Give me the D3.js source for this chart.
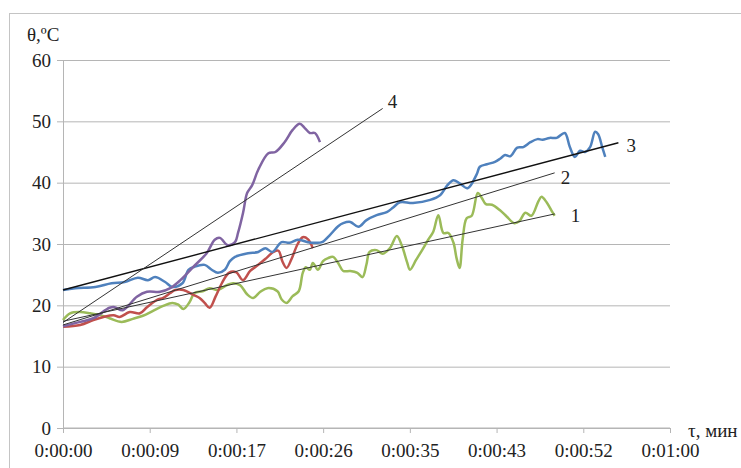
<!DOCTYPE html>
<html>
<head>
<meta charset="utf-8">
<script src="https://cdn.jsdelivr.net/npm/d3@7"></script>
<style>
  html, body { margin: 0; padding: 0; background: #fff; }
  svg { display: block; }
  svg text { font-family: "Liberation Serif", "DejaVu Serif", "Times New Roman", serif !important; fill: #222; }
</style>
</head>
<body>
<svg id="chart" width="741" height="468"></svg>
<script>
// Time axis (seconds) and temperature axis (°C)
const xTickLabels = ["0:00:00", "0:00:09", "0:00:17", "0:00:26", "0:00:35", "0:00:43", "0:00:52", "0:01:00"];
const yTickValues = [0, 10, 20, 30, 40, 50, 60];

// Curve 1 (green)
const t1 = [0, 0.7, 1.7, 2.7, 3.7, 4.6, 5.8, 6.9, 7.9, 8.9, 9.9, 10.8, 11.4, 11.9, 12.5, 13.0, 13.8, 14.5, 15.3, 16.2, 16.8, 17.5, 18.2, 18.8, 19.5, 20.2, 21.2, 21.6, 22.1, 22.7, 23.3, 23.7, 24.0, 24.4, 24.7, 25.2, 25.7, 26.2, 26.7, 27.2, 27.7, 28.4, 29.1, 29.6, 30.0, 30.3, 31.0, 31.6, 32.3, 33.0, 33.5, 34.0, 34.3, 34.9, 35.5, 36.1, 36.6, 37.1, 37.6, 38.1, 38.6, 38.9, 39.2, 39.5, 39.9, 40.4, 41.0, 41.4, 41.8, 42.4, 43.2, 43.9, 44.6, 45.1, 45.7, 46.3, 47.0, 47.3, 47.8, 48.3, 48.6];
const v1 = [17.6, 18.7, 18.9, 18.7, 18.4, 17.9, 17.3, 17.8, 18.3, 19.1, 19.9, 20.4, 20.1, 19.4, 20.5, 22.0, 22.3, 22.8, 22.5, 23.3, 23.6, 23.3, 21.8, 21.2, 22.2, 22.8, 22.3, 21.0, 20.4, 21.5, 22.3, 25.3, 26.2, 25.8, 26.9, 25.8, 27.2, 27.7, 27.9, 26.9, 25.6, 25.6, 25.3, 24.6, 26.7, 28.7, 29.0, 28.4, 29.3, 31.3, 29.7, 27.1, 25.8, 27.4, 29.0, 30.7, 32.0, 34.7, 31.8, 31.8, 30.2, 27.7, 26.1, 30.7, 34.2, 34.6, 38.3, 37.5, 36.5, 36.4, 35.5, 34.4, 33.4, 33.7, 35.1, 34.6, 37.0, 37.7, 36.8, 35.4, 34.6];

// Curve 2 (red)
const t2 = [0, 1.7, 3.0, 4.0, 5.0, 5.6, 6.6, 7.6, 8.3, 9.3, 9.9, 10.6, 11.1, 11.9, 12.9, 13.5, 14.0, 14.5, 15.1, 15.7, 16.4, 17.1, 17.8, 18.5, 19.3, 20.1, 20.8, 21.3, 21.7, 22.1, 22.6, 23.2, 23.7, 24.2, 24.7];
const v2 = [16.5, 16.8, 17.6, 18.1, 18.4, 18.1, 18.9, 18.7, 19.7, 20.9, 21.2, 22.0, 22.5, 22.5, 21.7, 21.2, 20.4, 19.6, 21.5, 23.6, 25.3, 25.4, 24.1, 25.6, 26.6, 27.7, 28.7, 28.9, 27.1, 26.1, 27.6, 30.0, 31.1, 30.8, 29.3];

// Curve 3 (blue)
const t3 = [0, 1.2, 3.2, 4.8, 6.1, 7.4, 8.4, 9.1, 10.1, 10.8, 11.8, 12.4, 13.0, 14.0, 14.7, 15.3, 16.0, 16.5, 17.0, 18.3, 19.3, 20.0, 20.7, 21.6, 22.4, 23.2, 24.2, 24.9, 25.6, 26.4, 27.2, 27.7, 28.4, 29.2, 30.0, 31.0, 32.0, 32.6, 33.3, 34.6, 36.3, 37.3, 38.0, 38.6, 39.2, 40.0, 40.9, 41.2, 41.9, 42.7, 43.2, 43.7, 44.2, 44.9, 45.5, 46.2, 46.9, 47.4, 48.1, 48.8, 49.6, 50.1, 50.6, 51.1, 51.6, 52.1, 52.6, 52.9, 53.3, 53.6];
const v3 = [22.5, 22.8, 23.0, 23.6, 23.8, 24.5, 24.1, 24.6, 23.8, 23.0, 23.6, 25.8, 26.3, 26.6, 25.8, 25.3, 25.8, 27.2, 27.9, 28.5, 28.7, 29.3, 28.7, 30.3, 30.2, 30.7, 30.3, 30.2, 30.3, 31.5, 32.9, 33.4, 33.6, 32.8, 33.9, 34.7, 35.2, 35.9, 36.8, 36.7, 37.2, 38.0, 39.6, 40.4, 39.9, 39.1, 41.4, 42.6, 43.0, 43.4, 43.9, 44.5, 44.3, 45.7, 45.8, 46.6, 47.1, 47.0, 47.3, 47.3, 48.1, 45.8, 44.2, 45.2, 45.0, 45.8, 48.3, 47.9, 45.8, 44.2];

// Curve 4 (purple)
const t4 = [0, 1.7, 3.0, 4.6, 5.1, 5.9, 7.3, 8.3, 9.6, 10.6, 11.6, 12.9, 14.2, 15.0, 15.5, 16.3, 17.0, 17.3, 17.8, 18.2, 18.7, 19.3, 20.3, 21.0, 21.9, 22.7, 23.4, 23.9, 24.4, 24.9, 25.4];
const v4 = [16.6, 17.3, 17.9, 19.6, 19.7, 19.2, 21.4, 22.2, 22.2, 22.8, 24.1, 26.3, 28.5, 30.7, 31.0, 29.8, 30.3, 31.8, 35.1, 38.3, 39.6, 42.1, 44.8, 45.0, 46.6, 48.6, 49.6, 48.9, 48.1, 48.1, 46.6];

// Linear trend lines: start/end time and temperature
const trendNames = ["1", "2", "3", "4"];
const trendT = [[0, 48.6], [0, 48.6], [0, 54.9], [0, 31.6]];
const trendV = [[17.4, 34.9], [16.8, 41.6], [22.5, 46.5], [17.2, 52.1]];

const svg = d3.select("#chart");
const margin = { left: 63, right: 71, top: 60, bottom: 40 };
const W = 741, H = 468;
const FONT = "'Liberation Serif', 'DejaVu Serif', serif";
const FS = 19;

const x = d3.scaleLinear().domain([0, 60]).range([margin.left, W - margin.right]);
const y = d3.scaleLinear().domain([0, 60]).range([H - margin.bottom, margin.top]);

// chart frame
svg.append("rect")
  .attr("x", 9.5).attr("y", 13.5)
  .attr("width", 740).attr("height", 470)
  .attr("fill", "none").attr("stroke", "#c4c4c4").attr("stroke-width", 1);

// horizontal gridlines with y axis
const yAxis = d3.axisLeft(y).tickValues(yTickValues)
  .tickSize(-(x.range()[1] - x.range()[0])).tickPadding(12).tickFormat(d3.format("d"));
const gy = svg.append("g").attr("transform", `translate(${margin.left},0)`).call(yAxis)
  .attr("font-family", FONT);
gy.select(".domain").attr("stroke", "#b5b5b5");
gy.selectAll(".tick line").attr("stroke", "#b5b5b5").attr("x1", -6);
gy.selectAll(".tick text").style("font-family", FONT).attr("font-size", FS).attr("fill", "#222");

// x axis
const xTicks = xTickLabels.map((d, i) => i * 60 / 7);
const xAxis = d3.axisBottom(x).tickValues(xTicks).tickSize(5).tickPadding(11)
  .tickFormat((d, i) => xTickLabels[i]);
const gx = svg.append("g").attr("transform", `translate(0,${y(0)})`).call(xAxis)
  .attr("font-family", FONT);
gx.select(".domain").attr("stroke", "#b5b5b5").attr("d", `M${x(0)},0H${x(60)}`);
gx.selectAll(".tick line").attr("stroke", "#b5b5b5");
gx.selectAll(".tick text").style("font-family", FONT).attr("font-size", FS).attr("fill", "#222");

// axis titles
svg.append("text").attr("x", 27).attr("y", 41).attr("font-size", FS).style("font-family", FONT).text("θ,ºC");
svg.append("text").attr("x", 688).attr("y", 437).attr("font-size", FS).style("font-family", FONT).text("τ, мин");

// measured curves
const series = [
  { t: t1, v: v1, color: "#9bbb59" },
  { t: t2, v: v2, color: "#c0504d" },
  { t: t3, v: v3, color: "#4f81bd" },
  { t: t4, v: v4, color: "#8064a2" }
];
const line = d3.line()
  .x(d => x(d[0])).y(d => y(d[1]))
  .curve(d3.curveCatmullRom.alpha(0.5));
svg.append("g").selectAll("path").data(series).join("path")
  .attr("d", s => line(s.t.map((t, i) => [t, s.v[i]])))
  .attr("fill", "none")
  .attr("stroke", s => s.color)
  .attr("stroke-width", 2.5)
  .attr("stroke-linejoin", "round");

// trend lines and their numbers
const labelOffsets = [[16, 1], [6, 4], [8, 3], [5, -7]];
const trends = trendNames.map((n, i) => ({ n, t: trendT[i], v: trendV[i], off: labelOffsets[i] }));
const gt = svg.append("g");
gt.selectAll("line").data(trends).join("line")
  .attr("x1", d => x(d.t[0])).attr("y1", d => y(d.v[0]))
  .attr("x2", d => x(d.t[1])).attr("y2", d => y(d.v[1]))
  .attr("stroke", (d, i) => i === 2 ? "#111" : "#333")
  .attr("stroke-width", (d, i) => i === 2 ? 1.4 : 1);
gt.selectAll("text").data(trends).join("text")
  .attr("x", d => x(d.t[1]) + d.off[0])
  .attr("y", d => y(d.v[1]) + d.off[1])
  .attr("dy", "0.35em")
  .attr("font-size", FS)
  .style("font-family", FONT)
  .text(d => d.n);
</script>
</body>
</html>
